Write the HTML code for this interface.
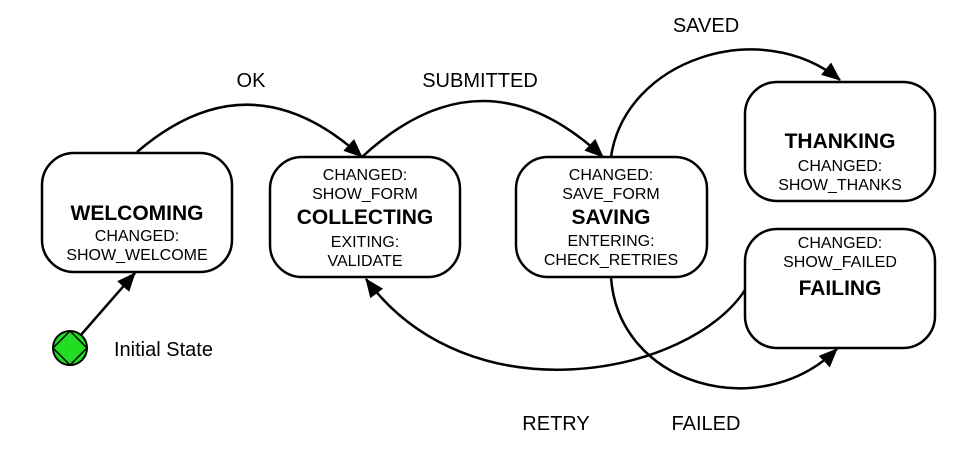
<!DOCTYPE html>
<html><head><meta charset="utf-8"><style>
html,body{margin:0;padding:0;background:#fff}
svg{display:block;font-family:"Liberation Sans",Arial,sans-serif}
.s{font-size:16px;text-anchor:middle}
.b{font-size:21px;font-weight:bold;text-anchor:middle}
.l{font-size:20px;text-anchor:middle}
</style></head><body>
<svg width="971" height="460" viewBox="0 0 971 460">
<defs><marker id="a" markerWidth="20" markerHeight="16" refX="18" refY="8" orient="auto" markerUnits="userSpaceOnUse"><path d="M0,0 L19,8 L0,16 Z" fill="#000"/></marker></defs>
<g fill="none" stroke="#000" stroke-width="2.5">
<path d="M137,152 Q250,55 362,157" marker-end="url(#a)"/>
<path d="M362,157 Q483,45 603,157" marker-end="url(#a)"/>
<path d="M611,157 C625,60 760,15 840,80" marker-end="url(#a)"/>
<path d="M611,277 C618,385 760,425 837,349" marker-end="url(#a)"/>
<path d="M745,290 C690,375 470,420 366,279" marker-end="url(#a)"/>
<path d="M80,336 L135,273" marker-end="url(#a)"/>
<rect x="42" y="153" width="190" height="119" rx="32" fill="#fff"/>
<rect x="270" y="157" width="190" height="120" rx="32" fill="#fff"/>
<rect x="516" y="157" width="191" height="120" rx="32" fill="#fff"/>
<rect x="745" y="82" width="190" height="119" rx="32" fill="#fff"/>
<rect x="745" y="229" width="190" height="119" rx="32" fill="#fff"/>
</g>
<circle cx="70" cy="348" r="17" fill="#22dd22" stroke="#000" stroke-width="2"/>
<path d="M70,331 L87,348 L70,365 L53,348 Z" fill="#22dd22" stroke="#000" stroke-width="1.5"/>
<text x="137" y="220" class="b">WELCOMING</text>
<text x="137" y="241" class="s">CHANGED:</text>
<text x="137" y="260" class="s">SHOW_WELCOME</text>
<text x="365" y="180" class="s">CHANGED:</text>
<text x="365" y="199" class="s">SHOW_FORM</text>
<text x="365" y="224" class="b">COLLECTING</text>
<text x="365" y="247" class="s">EXITING:</text>
<text x="365" y="266" class="s">VALIDATE</text>
<text x="611" y="180" class="s">CHANGED:</text>
<text x="611" y="199" class="s">SAVE_FORM</text>
<text x="611" y="224" class="b">SAVING</text>
<text x="611" y="246" class="s">ENTERING:</text>
<text x="611" y="265" class="s">CHECK_RETRIES</text>
<text x="840" y="148" class="b">THANKING</text>
<text x="840" y="171" class="s">CHANGED:</text>
<text x="840" y="190" class="s">SHOW_THANKS</text>
<text x="840" y="248" class="s">CHANGED:</text>
<text x="840" y="267" class="s">SHOW_FAILED</text>
<text x="840" y="295" class="b">FAILING</text>
<text x="251" y="87" class="l">OK</text>
<text x="480" y="87" class="l">SUBMITTED</text>
<text x="706" y="32" class="l">SAVED</text>
<text x="556" y="430" class="l">RETRY</text>
<text x="706" y="430" class="l">FAILED</text>
<text x="114" y="356" style="font-size:20px">Initial State</text>
</svg>
</body></html>
